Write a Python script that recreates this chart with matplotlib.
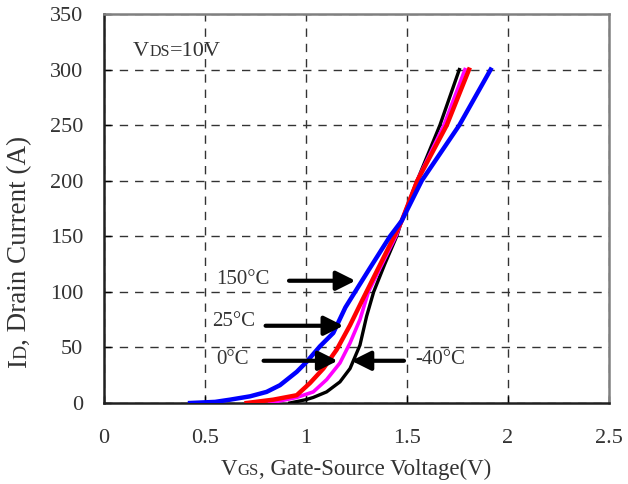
import matplotlib
matplotlib.use("Agg")
import matplotlib.pyplot as plt
from matplotlib.transforms import IdentityTransform

plt.rcParams['font.family'] = ['Liberation Serif', 'DejaVu Sans']

# ---- data ----
blue_x = [0.426, 0.55, 0.624, 0.723, 0.805, 0.871, 0.954, 1.003, 1.069, 1.135, 1.195, 1.243, 1.315, 1.416, 1.474, 1.573, 1.759, 1.914]
blue_y = [0, 1, 3, 6, 10, 16, 28, 37, 51, 63, 86, 100, 121, 150, 164, 200, 250, 300]

red_x = [0.706, 0.838, 0.954, 1.02, 1.086, 1.152, 1.218, 1.28, 1.437, 1.474, 1.551, 1.697, 1.807]
red_y = [0, 3, 7, 18, 31, 48, 70, 93, 150, 164, 200, 250, 300]

magenta_x = [0.82, 0.954, 1.036, 1.102, 1.168, 1.218, 1.267, 1.309, 1.39, 1.445, 1.474, 1.55, 1.683, 1.787]
magenta_y = [0, 5, 10, 21, 36, 54, 75, 100, 130, 150, 164, 200, 250, 300]

black_x = [0.92, 1.0, 1.036, 1.102, 1.168, 1.218, 1.267, 1.30, 1.335, 1.39, 1.449, 1.474, 1.55, 1.663, 1.759]
black_y = [0, 3, 5, 10, 19, 31, 52, 78, 100, 125, 150, 164, 200, 250, 300]

x_ticks = [0, 0.5, 1, 1.5, 2, 2.5]
x_tick_labels = ['0', '0.5', '1', '1.5', '2', '2.5']
y_ticks = [0, 50, 100, 150, 200, 250, 300, 350]
y_tick_labels = ['0', '50', '100', '150', '200', '250', '300', '350']

arrow_labels = ['150°C', '25°C', '0°C', '-40°C']
arrow_label_x = [0.686, 0.641, 0.634, 1.666]
arrow_label_y = [111, 73, 39, 39]
arrow_y = [110, 69.5, 38, 38]
arrow_tail = [0.916, 0.80, 0.79, 1.485]
arrow_tip = [1.245, 1.185, 1.157, 1.225]

# ---- figure ----
W, H = 628, 484
fig = plt.figure(figsize=(W / 100, H / 100), dpi=100)
ax = fig.add_axes([104 / W, (H - 403) / H, (609 - 104) / W, (403 - 14) / H])

ax.plot(black_x, black_y, color='black', lw=2.4, zorder=3)
ax.plot(magenta_x, magenta_y, color='#FF00FF', lw=2.6, zorder=3)
ax.plot(red_x, red_y, color='#FF0000', lw=3.2, zorder=3)
ax.plot(blue_x, blue_y, color='#0000FF', lw=3.2, zorder=3)

ax.set_xlim(0, 2.5)
ax.set_ylim(0, 350)
ax.set_xticks(x_ticks)
ax.set_xticklabels(x_tick_labels)
ax.set_yticks(y_ticks)
ax.set_yticklabels(y_tick_labels)
ax.tick_params(direction='in', length=5, width=1, labelsize=16, colors='black')
ax.tick_params(axis='x', pad=19)
ax.tick_params(axis='y', pad=15)
for lab in ax.get_xticklabels() + ax.get_yticklabels():
    lab.set_color('#333333')

ax.set_axisbelow(True)
ax.grid(True, color='#333333', lw=1.0, linestyle=(0, (6, 5)))

for s in ['left', 'bottom']:
    ax.spines[s].set_color('#202020')
    ax.spines[s].set_linewidth(1.8)
for s in ['top', 'right']:
    ax.spines[s].set_color('#808080')
    ax.spines[s].set_linewidth(1.8)

# arrows and labels
for lab, lx, ly, ay, t0, t1 in zip(arrow_labels, arrow_label_x, arrow_label_y, arrow_y, arrow_tail, arrow_tip):
    ax.annotate('', xy=(t1, ay), xytext=(t0, ay),
                arrowprops=dict(arrowstyle='-|>', mutation_scale=29, lw=3,
                                color='black', shrinkA=0, shrinkB=0), zorder=4)
    ax.text(lx, ly, lab, fontsize=15, color='#333333', ha='center', va='center', zorder=4)

# ---- composite labels with small-caps style subscripts ----
renderer = fig.canvas.get_renderer()


def piece_width(s, fs):
    t = fig.text(0, 0, s, fontsize=fs)
    w = t.get_window_extent(renderer).width
    t.remove()
    return w


def seq_text(pieces, x, y, rotation=0, center=True):
    widths = [piece_width(s, fs) for s, fs in pieces]
    total = sum(widths)
    start = -total / 2 if center else 0
    pos = start
    for (s, fs), w in zip(pieces, widths):
        if rotation == 0:
            px, py = x + pos, y
        else:
            px, py = x, y + pos
        fig.text(px, py, s, fontsize=fs, color='#333333', ha='left', va='baseline',
                 rotation=rotation, rotation_mode='anchor', transform=IdentityTransform())
        pos += w


seq_text([('V', 16.5), ('GS', 12), (', Gate-Source Voltage(V)', 16.5)], 356, 9)
seq_text([('I', 19.5), ('D', 14), (', Drain Current (A)', 19.5)], 26, H - 252, rotation=90)
seq_text([('V', 16), ('DS', 11.5), ('=10V', 16)], 133, H - 56, center=False)

fig.savefig('out.png', dpi=100)
